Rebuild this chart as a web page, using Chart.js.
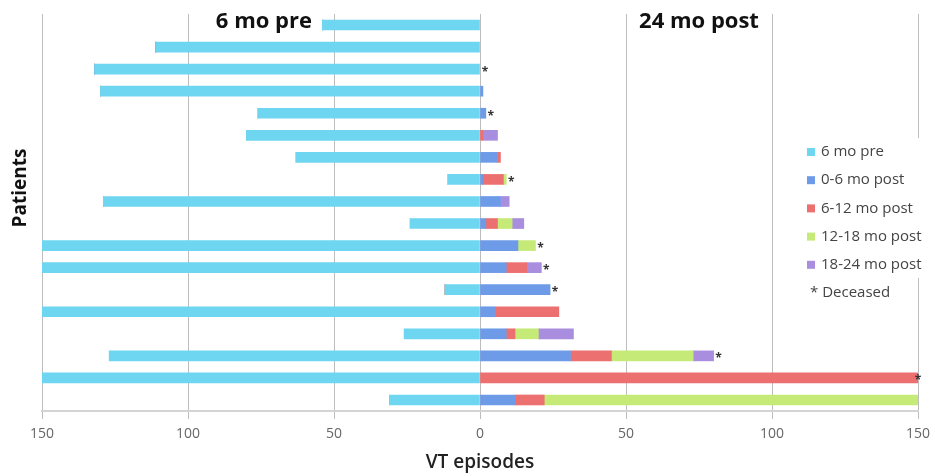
<!DOCTYPE html>
<html>
<head>
<meta charset="utf-8">
<script src="https://cdn.jsdelivr.net/npm/chart.js@4"></script>
<style>
  html, body { margin: 0; padding: 0; background: #fff; }
  #wrap { width: 935px; height: 476px; }
</style>
</head>
<body>
<div id="wrap"><canvas id="chart"></canvas></div>
<script>
// one row per patient, top to bottom
const patients = ["P1","P2","P3","P4","P5","P6","P7","P8","P9","P10","P11","P12","P13","P14","P15","P16","P17","P18"];
const pre6 = [54, 111, 132, 130, 76, 80, 63, 11, 129, 24, 150, 150, 12, 150, 26, 127, 150, 31];
const post0to6 = [0, 0, 0, 1, 2, 0, 6, 1, 7, 2, 13, 9, 24, 5, 9, 31, 0, 12];
const post6to12 = [0, 0, 0, 0, 0, 1, 1, 7, 0, 4, 0, 7, 0, 22, 3, 14, 150, 10];
const post12to18 = [0, 0, 0, 0, 0, 0, 0, 1, 0, 5, 6, 0, 0, 0, 8, 28, 0, 128];
const post18to24 = [0, 0, 0, 0, 0, 5, 0, 0, 3, 4, 0, 5, 0, 0, 12, 7, 0, 0];
const deceased = [0, 0, 1, 0, 1, 0, 0, 1, 0, 0, 1, 1, 1, 0, 0, 1, 1, 0];
const xTicks = [-150, -100, -50, 0, 50, 100, 150];

const seriesNames = ["6 mo pre", "0-6 mo post", "6-12 mo post", "12-18 mo post", "18-24 mo post"];
const seriesColors = ["#6fd6f1", "#6e9be8", "#ec7070", "#c6ea78", "#a98ddf"];

const datasets = [pre6.map(v => -v), post0to6, post6to12, post12to18, post18to24].map((d, i) => ({
    label: seriesNames[i],
    data: d,
    backgroundColor: seriesColors[i],
    borderWidth: 0,
    barThickness: 10,
    stack: "all",
}));

// titles, asterisks and the legend box
const extras = {
    id: "extras",
    afterDraw(chart) {
        const ctx = chart.ctx;
        const x = chart.scales.x;
        const y = chart.scales.y;
        ctx.save();

        // side headings
        ctx.fillStyle = "#111";
        ctx.font = "bold 22px 'Open Sans'";
        ctx.textAlign = "center";
        ctx.textBaseline = "middle";
        ctx.fillText("6 mo pre", x.getPixelForValue(-74), 22);
        ctx.fillText("24 mo post", x.getPixelForValue(75), 22);

        // y title
        ctx.save();
        ctx.translate(21, 188);
        ctx.rotate(-Math.PI / 2);
        ctx.font = "bold 19px 'Open Sans'";
        ctx.fillText("Patients", 0, 0);
        ctx.restore();

        // deceased markers
        ctx.font = "bold 12px 'Open Sans'";
        ctx.fillStyle = "#333";
        ctx.textAlign = "center";
        deceased.forEach((d, i) => {
            if (!d) return;
            const total = post0to6[i] + post6to12[i] + post12to18[i] + post18to24[i];
            const px = Math.min(x.getPixelForValue(total) + 5, x.right);
            ctx.fillText("*", px, y.getPixelForValue(i) + 3);
        });

        // legend
        ctx.fillStyle = "#fff";
        ctx.fillRect(790, 138, 140, 140);
        ctx.font = "15px 'Open Sans'";
        ctx.textAlign = "left";
        seriesNames.forEach((name, i) => {
            const ty = 152 + i * 28.2;
            ctx.fillStyle = seriesColors[i];
            ctx.fillRect(807, ty - 4, 8, 8);
            ctx.fillStyle = "#444";
            ctx.fillText(name, 821, ty);
        });
        ctx.fillText("* Deceased", 810, 293);
        ctx.restore();
    }
};

new Chart(document.getElementById("chart"), {
    type: "bar",
    data: { labels: patients, datasets: datasets },
    options: {
        indexAxis: "y",
        responsive: true,
        maintainAspectRatio: false,
        animation: false,
        layout: { padding: { top: 14, right: 17, left: 0, bottom: 0 } },
        plugins: {
            legend: { display: false },
            tooltip: { enabled: false },
        },
        scales: {
            x: {
                min: -150,
                max: 150,
                stacked: true,
                afterBuildTicks: (s) => { s.ticks = xTicks.map(v => ({ value: v })); },
                afterFit: (s) => { s.height = 65; s.paddingLeft = 0; s.paddingRight = 0; },
                ticks: {
                    callback: (v) => Math.abs(v),
                    color: "#666",
                    font: { family: "'Open Sans'", size: 14 },
                    padding: 7,
                    maxRotation: 0,
                },
                grid: { color: "#bdbdbd", lineWidth: 1, tickLength: 8 },
                border: { color: "#d4d4d4", width: 2 },
                title: {
                    display: true,
                    text: "VT episodes",
                    color: "#222",
                    font: { family: "'Open Sans'", size: 19, weight: "600" },
                    padding: { top: 4, bottom: 2 },
                },
            },
            y: {
                stacked: true,
                afterFit: (s) => { s.width = 42; },
                ticks: { display: false },
                grid: { display: false },
                border: { display: false },
            },
        },
    },
    plugins: [extras],
});
</script>
</body>
</html>
